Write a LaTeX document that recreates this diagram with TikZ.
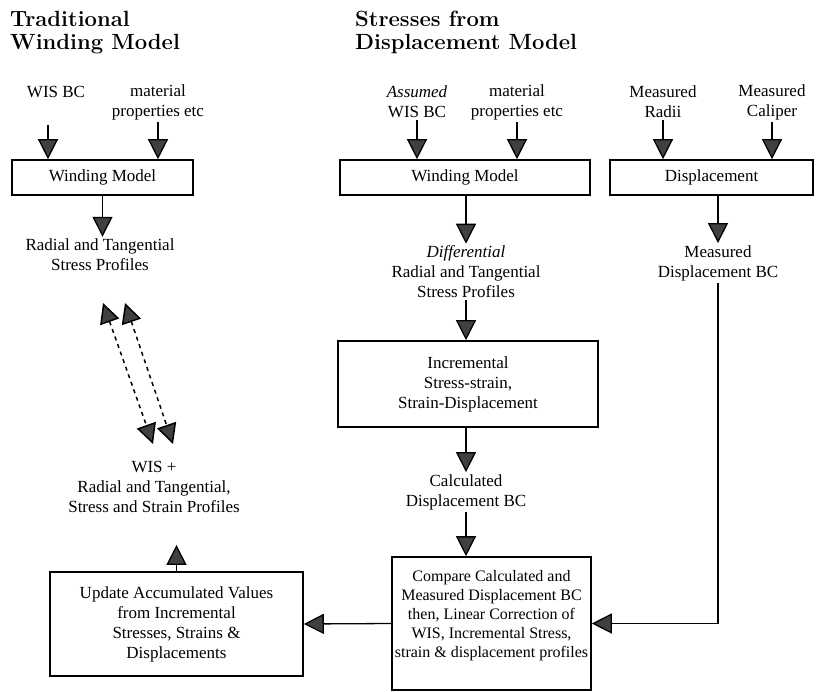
\documentclass[tikz,border=0pt]{standalone}
\usepackage{fontspec}
\newfontfamily\bodyfont{Liberation Serif}
\usetikzlibrary{arrows.meta,positioning}
\tikzset{
  lbl/.style={align=center, font=\bodyfont\fontsize{17}{20}\selectfont, inner sep=2pt},
  box/.style={lbl, draw, line width=1.6pt},
  ttl/.style={align=left, anchor=north west, inner sep=0pt, font=\bfseries\fontsize{22}{23}\selectfont},
  feed/.style={line width=1.3pt, -{Triangle[length=20pt,width=20pt,fill=black!75]}},
  loopback/.style={line width=1.5pt, dash pattern=on 4pt off 4pt,
    {Triangle[length=20pt,width=20pt,fill=black!75]}-{Triangle[length=20pt,width=20pt,fill=black!75]}},
}

\begin{document}
\begin{tikzpicture}[x=1pt,y=-1pt]
		%%%%% START %%%%%
		\useasboundingbox (0,0) rectangle (816,692);
		
		\node[ttl] (titleA) at (10,11) {Traditional\\Winding Model};
		\node[ttl] (titleB) at (355,11) {Stresses from\\Displacement Model};
		
		% traditional model
		\node[lbl] (wisA) at (56,92) {WIS BC};
		\node[lbl] (matA) at (158,102) {material\\properties etc};
		\node[box, minimum width=181pt, minimum height=35pt] (windA) at (102.5,177.5) {Winding Model};
		\node[lbl] (radA) at (100,255) {Radial and Tangential\\Stress Profiles};
		\coordinate (inA) at (48,125);
		\draw[feed] (inA) -- (inA |- windA.north);
		\draw[feed] (matA.south) -- (matA.south |- windA.north);
		\draw[feed] (windA.south) -- (windA.south |- radA.north);
		
		\coordinate (dA1) at (103,303);
		\coordinate (dA2) at (153,444);
		\coordinate (dB1) at (125,303);
		\coordinate (dB2) at (173,444);
		\draw[loopback] (dA1) -- (dA2);
		\draw[loopback] (dB1) -- (dB2);
		
		\node[lbl] (wisR) at (154,487) {WIS +\\Radial and Tangential,\\Stress and Strain Profiles};
		\node[box, minimum width=253pt, minimum height=104pt] (upd) at (176.5,624) {Update Accumulated Values\\from Incremental\\Stresses, Strains \&\\Displacements};
		\draw[feed, shorten >=30pt] (upd.north) -- (upd.north |- wisR.south);
		
		% displacement model
		\node[lbl] (wisB) at (417,102) {\textit{Assumed}\\WIS BC};
		\node[lbl] (matB) at (517,102) {material\\properties etc};
		\node[lbl] (radii) at (663,102) {Measured\\Radii};
		\node[lbl] (caliper) at (772,102) {Measured\\Caliper};
		\node[box, minimum width=250pt, minimum height=35pt] (windB) at (465,177.5) {Winding Model};
		\node[box, minimum width=203pt, minimum height=35pt] (disp) at (711.5,177.5) {Displacement};
		\foreach \src/\dst in {wisB/windB, matB/windB, radii/disp, caliper/disp}
			\draw[feed] (\src.south) -- (\src.south |- \dst.north);
		
		\node[lbl] (diffB) at (466,272) {\textit{Differential}\\Radial and Tangential\\Stress Profiles};
		\node[lbl] (measBC) at (718,263) {Measured\\Displacement BC};
		\draw[feed] (windB.south -| diffB.north) -- (diffB.north);
		\draw[feed] (measBC.north |- disp.south) -- (measBC.north);
		
		\node[box, minimum width=260pt, minimum height=86pt] (incr) at (468,384) {Incremental\\Stress-strain,\\Strain-Displacement};
		\draw[feed] (diffB.south) -- (diffB.south |- incr.north);
		
		\node[lbl] (calcBC) at (466,492) {Calculated\\Displacement BC};
		\draw[feed] (calcBC.north |- incr.south) -- (calcBC.north);
		
		\node[box, font=\bodyfont\fontsize{16}{19}\selectfont, inner xsep=1pt, minimum width=199pt, minimum height=133pt] (comp) at (491.5,623.5) {Compare Calculated and\\Measured Displacement BC\\then, Linear Correction of\\WIS, Incremental Stress,\\strain \& displacement profiles\\ ~};
		\draw[feed] (calcBC.south) -- (calcBC.south |- comp.north);
		\draw[feed] (measBC.south) |- (comp.east);
		\draw[feed] (comp.west) -- (upd.east);
		
		%%%%% END %%%%%
\end{tikzpicture}
\end{document}
